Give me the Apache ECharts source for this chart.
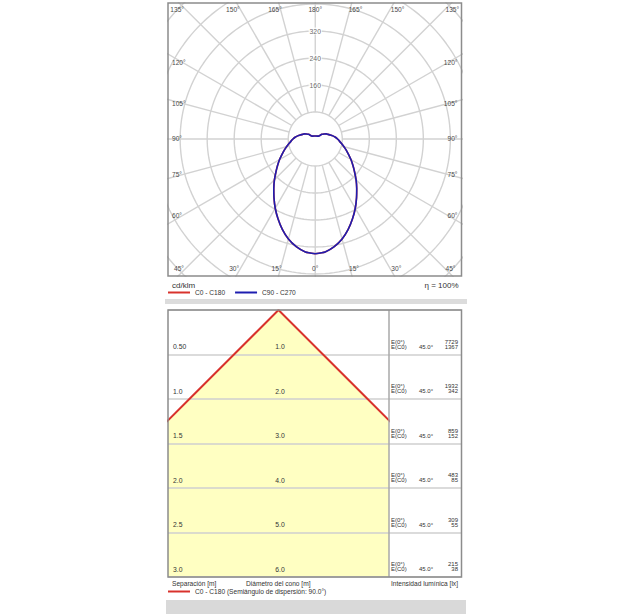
<!DOCTYPE html>
<html>
<head>
<meta charset="utf-8">
<script src="https://cdn.jsdelivr.net/npm/echarts@6/dist/echarts.min.js"></script>
<style>html,body{margin:0;padding:0;background:#fff;}#c{width:633px;height:614px;}</style>
</head>
<body>
<div id="c"></div>
<script>
// ---------- data ----------
const angles   = [0,5,10,15,20,25,30,35,40,45,50,55,60,65,70,75,80,85,90,95,100,105,110,115,120,125,130,140,150,160,170,180];
const c0c180   = [340,336,324,307,285,261,237,213,191,171,152,136,122,109,98,88,79,72,66,60,53,46,40,36,30,24,14,11,10,9.5,9,9];
const c90c270  = [340,336,324,307,285,261,237,213,191,171,152,136,122,109,98,88,79,72,66,60,53,46,40,36,30,24,14,11,10,9.5,9,9];
const ringValues = [80,160,240,320,400,480,560,640];
const ringLabelValues = [160,240,320];
const angleLabelValues = [0,15,30,45,60,75,90,105,120,135,150,165,180];
const separations = [0.5,1.0,1.5,2.0,2.5,3.0];
const separationLabels = ['0.50','1.0','1.5','2.0','2.5','3.0'];
const coneDiameters = [1.0,2.0,3.0,4.0,5.0,6.0];
const diameterLabels = ['1.0','2.0','3.0','4.0','5.0','6.0'];
const illumCenter = [7729,1932,859,483,309,215];
const illumC0 = [1367,342,152,85,55,38];
const illumC0AngleLabel = '45.0°';
const efficiencyLabel = 'η = 100%';
const coneName = 'C0 - C180 (Semiángulo de dispersión: 90.0°)';

// ---------- layout / style ----------
const FONT = '"Liberation Sans", Arial, Helvetica, sans-serif';
const POLAR = {left:168, top:3, width:293.5, height:273};
const CONE  = {left:168, top:310, width:221, height:267};
const TABLE = {left:389, top:310, width:72.5, height:267};
const GRIDC = '#d2d2d2';
const RED = '#d8322c', BLUE = '#1e1eb0';
const rad = d => d * Math.PI / 180;

const chart = echarts.init(document.getElementById('c'), null, {renderer:'svg', width:633, height:614});

const series = [];
// rings
ringValues.forEach(r => {
  const pts = [];
  for (let a = 0; a <= 360; a += 2) pts.push([r * Math.sin(rad(a)), -r * Math.cos(rad(a))]);
  series.push({type:'line', xAxisIndex:0, yAxisIndex:0, data:pts, symbol:'none', silent:true, clip:true,
    lineStyle:{color:GRIDC, width:1.4}, z:1});
});
// radial lines
for (let a = 0; a < 360; a += 15) {
  const r0 = ringValues[0], r1 = 900;
  series.push({type:'line', xAxisIndex:0, yAxisIndex:0, symbol:'none', silent:true, clip:true,
    data:[[r0*Math.sin(rad(a)), -r0*Math.cos(rad(a))],[r1*Math.sin(rad(a)), -r1*Math.cos(rad(a))]],
    lineStyle:{color:GRIDC, width:1.4}, z:1});
}
function loop(vals) {
  const pts = [];
  angles.forEach((a, i) => pts.push([vals[i]*Math.sin(rad(a)), -vals[i]*Math.cos(rad(a))]));
  for (let i = angles.length - 1; i >= 0; i--) pts.push([-vals[i]*Math.sin(rad(angles[i])), -vals[i]*Math.cos(rad(angles[i]))]);
  return pts;
}
series.push({name:'C0 - C180', type:'line', xAxisIndex:0, yAxisIndex:0, data:loop(c0c180), symbol:'none', smooth:0.2, clip:true,
  color:RED, itemStyle:{color:RED}, lineStyle:{color:RED, width:1.6}, z:3});
series.push({name:'C90 - C270', type:'line', xAxisIndex:0, yAxisIndex:0, data:loop(c90c270), symbol:'none', smooth:0.2, clip:true,
  color:BLUE, itemStyle:{color:BLUE}, lineStyle:{color:BLUE, width:1.6}, z:4});
// ring value labels
series.push({type:'scatter', xAxisIndex:0, yAxisIndex:0, symbolSize:0, silent:true, z:5,
  data: ringLabelValues.map(v => [0, v]),
  label:{show:true, position:'inside', formatter:p => String(p.value[1]), fontSize:6.8, fontFamily:FONT, color:'#444',
    backgroundColor:'#fff', padding:[0,1]}});

// cone fill
const coneXMax = 1.24;
series.push({type:'custom', xAxisIndex:1, yAxisIndex:1, z:-1, silent:true, data:[[0,0]],
  renderItem: (params, api) => {
    const n = separations.length - 1;
    const sLast = separations[n], hLast = coneDiameters[n] / 2;
    const sHit = coneXMax * sLast / hLast;
    let pts;
    if (sHit < sLast) {
      pts = [[0,0],[coneXMax,sHit],[coneXMax,sLast],[-coneXMax,sLast],[-coneXMax,sHit]];
    } else {
      pts = [[0,0],[hLast,sLast],[-hLast,sLast]];
    }
    return {type:'polygon', shape:{points: pts.map(p => api.coord(p))}, style:{fill:'#ffffc2'}};
  }});
// cone outline
const coneLine = [];
for (let i = separations.length - 1; i >= 0; i--) coneLine.push([-coneDiameters[i]/2, separations[i]]);
coneLine.push([0,0]);
for (let i = 0; i < separations.length; i++) coneLine.push([coneDiameters[i]/2, separations[i]]);
series.push({name:coneName, type:'line', xAxisIndex:1, yAxisIndex:1, data:coneLine, symbol:'none', clip:true,
  color:RED, itemStyle:{color:RED}, lineStyle:{color:RED, width:2}, z:4});

const hiddenAxis = {show:false};
const rowAxis = (gi) => ({type:'value', gridIndex:gi, min:0, max:3, interval:0.5, inverse:true,
  axisLine:{show:false}, axisTick:{show:false}, axisLabel:{show:false},
  splitLine:{show:true, lineStyle:{color:'#cfcfcf', width:1.5}}});

chart.setOption({
  animation:false,
  grid:[
    {left:POLAR.left, top:POLAR.top, width:POLAR.width, height:POLAR.height, containLabel:false},
    {left:CONE.left, top:CONE.top, width:CONE.width, height:CONE.height},
    {left:TABLE.left, top:TABLE.top, width:TABLE.width, height:TABLE.height}
  ],
  xAxis:[
    {type:'value', gridIndex:0, min:-436, max:433, ...hiddenAxis},
    {type:'value', gridIndex:1, min:-coneXMax, max:coneXMax, ...hiddenAxis},
    {type:'value', gridIndex:2, min:0, max:1, ...hiddenAxis}
  ],
  yAxis:[
    {type:'value', gridIndex:0, min:-406, max:403, ...hiddenAxis},
    rowAxis(1), rowAxis(2)
  ],
  legend:[
    {data:[{name:'C0 - C180', icon:'rect'},{name:'C90 - C270', icon:'rect'}], left:168, top:289, padding:0,
      itemWidth:22, itemHeight:2, itemGap:10, selectedMode:false,
      textStyle:{fontSize:6.6, fontFamily:FONT, color:'#333'}},
    {data:[{name:coneName, icon:'rect'}], left:168, top:588, padding:0,
      itemWidth:22, itemHeight:2, selectedMode:false,
      textStyle:{fontSize:6.6, fontFamily:FONT, color:'#333'}}
  ],
  series: series
});

// ---------- annotations ----------
const g = [];
const txt = (text, x, y, align, size, color) => g.push({type:'text', x:x, y:y, z:50, silent:true,
  style:{text:text, align:align, verticalAlign:'middle', fontSize:size, fontWeight:'normal', fontFamily:FONT, fill:color}});

// polar angle labels
const c = chart.convertToPixel({gridIndex:0}, [0,0]);
const cx = c[0], cy = c[1];
const L = POLAR.left, R = POLAR.left + POLAR.width, T = POLAR.top, B = POLAR.top + POLAR.height;
const ALC = '#4a4a4a', AFS = 6.6;
angleLabelValues.forEach(a => {
  const lab = a + '°';
  if (a >= 135) {               // top row
    if (a === 180) { txt(lab, cx, T + 6.5, 'center', AFS, ALC); return; }
    const dx = (cy - T) * Math.tan(rad(180 - a));
    txt(lab, Math.max(cx - dx + 3, L + 16), T + 6.5, 'right', AFS, ALC);
    txt(lab, Math.min(cx + dx - 3, R - 16), T + 6.5, 'left', AFS, ALC);
  } else if (a <= 45) {         // bottom row
    if (a === 0) { txt(lab, cx, B - 8, 'center', AFS, ALC); return; }
    const dx = (B - cy) * Math.tan(rad(a));
    txt(lab, Math.max(cx - dx + 3, L + 16), B - 8, 'right', AFS, ALC);
    txt(lab, Math.min(cx + dx - 3, R - 16), B - 8, 'left', AFS, ALC);
  } else {                      // side columns
    const y = cy - 0.9 * (cx - L) * Math.tan(rad(a - 90));
    txt(lab, L + 4, y, 'left', AFS, ALC);
    txt(lab, R - 4, y, 'right', AFS, ALC);
  }
});
// frames
g.push({type:'rect', z:40, silent:true, shape:{x:POLAR.left, y:POLAR.top, width:POLAR.width, height:POLAR.height},
  style:{fill:'none', stroke:'#8c8c8c', lineWidth:1.5}});
txt('cd/klm', L + 4, B + 9, 'left', 8, '#333');
txt(efficiencyLabel, R - 3, B + 9, 'right', 8, '#333');
g.push({type:'rect', z:1, silent:true, shape:{x:165, y:299, width:302, height:5}, style:{fill:'#dcdcdc'}});
g.push({type:'rect', z:1, silent:true, shape:{x:166, y:600, width:300, height:14}, style:{fill:'#d9d9d9'}});

const tl = TABLE.left;
g.push({type:'line', z:40, silent:true, shape:{x1:tl, y1:CONE.top, x2:tl, y2:CONE.top + CONE.height},
  style:{stroke:'#a8a8a8', lineWidth:1.5}});
g.push({type:'rect', z:41, silent:true, shape:{x:CONE.left, y:CONE.top, width:TABLE.left + TABLE.width - CONE.left, height:CONE.height},
  style:{fill:'none', stroke:'#8c8c8c', lineWidth:1.5}});

const coneCx = chart.convertToPixel({gridIndex:1}, [0,0])[0];
separations.forEach((s, i) => {
  const yb = chart.convertToPixel({gridIndex:1}, [0, s])[1];
  txt(separationLabels[i], CONE.left + 5, yb - 8, 'left', 6.8, '#333');
  txt(diameterLabels[i], coneCx + 1.5, yb - 8, 'center', 6.8, '#333');
  txt('E(0°)', tl + 2, yb - 13, 'left', 6, '#333');
  txt('E(C0)', tl + 2, yb - 8, 'left', 6, '#333');
  txt(illumC0AngleLabel, tl + 30, yb - 8, 'left', 6, '#333');
  txt(String(illumCenter[i]), TABLE.left + TABLE.width - 3.5, yb - 13, 'right', 6, '#333');
  txt(String(illumC0[i]), TABLE.left + TABLE.width - 3.5, yb - 8, 'right', 6, '#333');
});
const by = CONE.top + CONE.height + 6.5;
txt('Separación [m]', CONE.left + 4, by, 'left', 6.6, '#333');
txt('Diámetro del cono [m]', 246, by, 'left', 6.6, '#333');
txt('Intensidad lumínica [lx]', TABLE.left + TABLE.width - 3.5, by, 'right', 6.6, '#333');

chart.setOption({graphic: g});
</script>
</body>
</html>
